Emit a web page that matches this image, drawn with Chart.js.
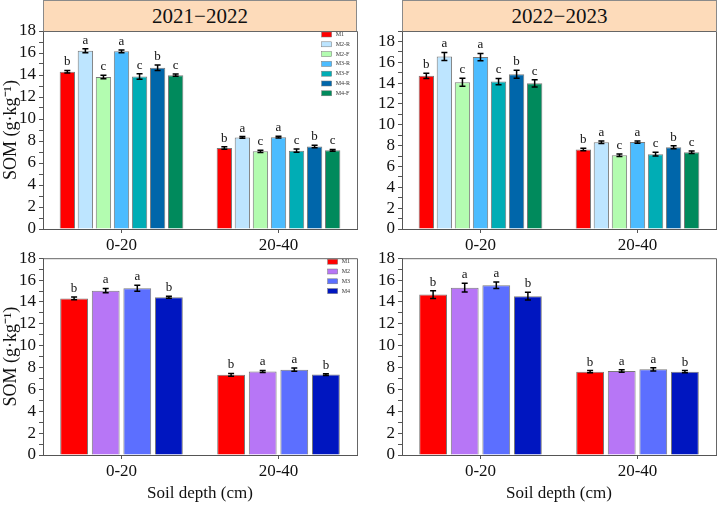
<!DOCTYPE html>
<html lang="en">
<head>
  <meta charset="UTF-8">
  <title>SOM by soil depth</title>
  <style>
    * { box-sizing: border-box; }
    body { margin: 0; padding: 0; background: #fff; font-family: "Liberation Serif", "Times New Roman", serif; }
    #wrap { position: relative; width: 719px; height: 507px; overflow: hidden; }
    .panel { position: absolute; }
    .head {
      position: absolute;
      top: 0;
      height: 31px;
      background-color: #fddbba;
      border: 1px solid #8a8a8a;
      border-bottom: none;
      text-align: center;
      font-size: 21px;
      line-height: 31px;
      color: #111;
      z-index: 2;
    }
  </style>
</head>
<body>

<div id="wrap">
  <div class="head" style="left:43px; width:314px;">2021−2022</div>
  <div class="head" style="left:402px; width:315px;">2022−2023</div>

  <canvas id="chartTL" class="panel" style="left:0; top:0;" width="360" height="256"></canvas>
  <canvas id="chartTR" class="panel" style="left:359px; top:0;" width="360" height="256"></canvas>
  <canvas id="chartBL" class="panel" style="left:0; top:245px;" width="360" height="262"></canvas>
  <canvas id="chartBR" class="panel" style="left:359px; top:245px;" width="360" height="262"></canvas>
</div>

<script src="https://cdn.jsdelivr.net/npm/chart.js"></script>
<script>
  // categories
  const depths = ['0-20', '20-40'];
  const splitTreatments = ['M1', 'M2-R', 'M2-F', 'M3-R', 'M3-F', 'M4-R', 'M4-F'];
  const meanTreatments = ['M1', 'M2', 'M3', 'M4'];

  // SOM values, one row per treatment: [0-20, 20-40]
  const som2122Split = [[14.3, 7.36], [16.2, 8.32], [13.82, 7.06], [16.15, 8.35], [13.87, 7.12], [14.65, 7.5], [13.98, 7.15]];
  const err2122Split = [[0.12, 0.12], [0.18, 0.08], [0.15, 0.1], [0.12, 0.08], [0.25, 0.15], [0.25, 0.12], [0.1, 0.08]];
  const som2223Split = [[14.7, 7.64], [16.55, 8.32], [14.08, 7.08], [16.5, 8.34], [14.15, 7.18], [14.85, 7.84], [13.98, 7.36]];
  const err2223Split = [[0.25, 0.12], [0.38, 0.12], [0.38, 0.12], [0.35, 0.1], [0.3, 0.18], [0.38, 0.15], [0.35, 0.12]];
  const lettersSplit = [['b', 'b'], ['a', 'a'], ['c', 'c'], ['a', 'a'], ['c', 'c'], ['b', 'b'], ['c', 'c']];

  const som2122Mean = [[14.32, 7.33], [15.03, 7.64], [15.25, 7.8], [14.43, 7.36]];
  const err2122Mean = [[0.12, 0.12], [0.2, 0.1], [0.28, 0.15], [0.1, 0.08]];
  const som2223Mean = [[14.67, 7.62], [15.3, 7.68], [15.53, 7.84], [14.53, 7.62]];
  const err2223Mean = [[0.35, 0.1], [0.4, 0.12], [0.3, 0.15], [0.35, 0.1]];
  const lettersMean = [['b', 'b'], ['a', 'a'], ['a', 'a'], ['b', 'b']];

  const yTicks = [0, 2, 4, 6, 8, 10, 12, 14, 16, 18];

  const splitColors = ['#ff0000', '#bde5ff', '#b3fcb0', '#4cbcff', '#00adb5', '#0066aa', '#008a5c'];
  const meanColors = ['#ff0000', '#b776f6', '#5c6fff', '#0016c0'];

  const serif = "'Liberation Serif', 'Times New Roman', serif";
  Chart.defaults.font.family = serif;
  Chart.defaults.color = '#111';

  // error bars + significance letters
  const errorBarPlugin = {
    id: 'errorBars',
    afterDatasetsDraw(chart) {
      const ctx = chart.ctx;
      const y = chart.scales.y;
      ctx.save();
      ctx.strokeStyle = '#000';
      ctx.lineWidth = 1.5;
      ctx.fillStyle = '#111';
      ctx.font = '13px ' + serif;
      ctx.textAlign = 'center';
      ctx.textBaseline = 'bottom';
      chart.data.datasets.forEach((ds, i) => {
        const meta = chart.getDatasetMeta(i);
        meta.data.forEach((bar, j) => {
          const v = ds.data[j];
          const e = ds.errors[j];
          const yt = y.getPixelForValue(v + e);
          const yb = y.getPixelForValue(v - e);
          ctx.beginPath();
          ctx.moveTo(bar.x, yt); ctx.lineTo(bar.x, yb);
          ctx.moveTo(bar.x - 3, yt); ctx.lineTo(bar.x + 3, yt);
          ctx.moveTo(bar.x - 3, yb); ctx.lineTo(bar.x + 3, yb);
          ctx.stroke();
          ctx.fillText(ds.letters[j], bar.x, yt - 2);
        });
      });
      ctx.restore();
    }
  };

  // small legend in the top right corner + box frame
  const cornerLegendPlugin = {
    id: 'cornerLegend',
    afterDraw(chart) {
      const ctx = chart.ctx;
      const a = chart.chartArea;
      ctx.save();
      ctx.strokeStyle = '#666';
      ctx.lineWidth = 1;
      ctx.beginPath();
      ctx.moveTo(a.left, a.top + 0.5); ctx.lineTo(a.right + 0.5, a.top + 0.5); ctx.lineTo(a.right + 0.5, a.bottom);
      ctx.stroke();

      if (chart.options.plugins.cornerLegend.show) {
        ctx.font = '6px ' + serif;
        ctx.textBaseline = 'middle';
        ctx.textAlign = 'left';
        let maxW = 0;
        chart.data.datasets.forEach(ds => { maxW = Math.max(maxW, ctx.measureText(ds.label).width); });
        const tx = a.right - 7 - maxW;
        chart.data.datasets.forEach((ds, i) => {
          const cy = a.top + 3.5 + i * 9.8;
          ctx.fillStyle = ds.backgroundColor;
          ctx.fillRect(tx - 14, cy - 2.5, 10, 5);
          ctx.strokeStyle = '#777';
          ctx.lineWidth = 0.5;
          ctx.strokeRect(tx - 14, cy - 2.5, 10, 5);
          ctx.fillStyle = '#333';
          ctx.fillText(ds.label, tx, cy);
        });
      }
      ctx.restore();
    }
  };

  function makePanel(id, names, colors, values, errors, letters, opts) {
    const datasets = names.map((name, i) => ({
      label: name,
      data: values[i],
      errors: errors[i],
      letters: letters[i],
      backgroundColor: colors[i],
      borderColor: '#7a7a7a',
      borderWidth: 1,
      categoryPercentage: 0.805,
      barPercentage: opts.barPct
    }));

    return new Chart(document.getElementById(id), {
      type: 'bar',
      data: { labels: depths, datasets: datasets },
      plugins: [errorBarPlugin, cornerLegendPlugin],
      options: {
        responsive: false,
        animation: false,
        devicePixelRatio: 1,
        layout: { padding: { top: opts.padTop, right: 3, left: 0, bottom: 0 } },
        plugins: {
          legend: { display: false },
          tooltip: { enabled: false },
          cornerLegend: { show: opts.legend }
        },
        scales: {
          x: {
            afterFit(scale) { scale.height = opts.xHeight; },
            grid: { display: true, drawOnChartArea: false, offset: false, tickLength: 4, color: '#555' },
            border: { color: '#555', width: 1 },
            ticks: { font: { family: serif, size: 17 }, color: '#111', padding: 2, maxRotation: 0 },
            title: {
              display: opts.xTitle,
              text: 'Soil depth (cm)',
              font: { family: serif, size: 17 },
              color: '#111',
              padding: { top: 0, bottom: 3 }
            }
          },
          y: {
            min: 0,
            max: opts.yMax,
            afterFit(scale) { scale.width = 43; },
            afterBuildTicks(scale) {
              const t = [];
              for (let v = 0; v <= opts.yMax; v++) t.push({ value: v });
              scale.ticks = t;
            },
            grid: { display: true, drawOnChartArea: false, tickLength: 4, color: '#555' },
            border: { color: '#555', width: 1 },
            ticks: {
              font: { family: serif, size: 17 },
              color: '#111',
              padding: 3,
              autoSkip: false,
              callback: v => (yTicks.includes(v) ? String(v) : '')
            },
            title: {
              display: opts.yTitle,
              text: 'SOM (g·kg⁻¹)',
              font: { family: serif, size: 18 },
              color: '#111',
              padding: { top: 0, bottom: 0 }
            }
          }
        }
      }
    });
  }

  makePanel('chartTL', splitTreatments, splitColors, som2122Split, err2122Split, lettersSplit,
    { yMax: 18, padTop: 31, xHeight: 27, barPct: 0.85, yTitle: true, xTitle: false, legend: true });
  makePanel('chartTR', splitTreatments, splitColors, som2223Split, err2223Split, lettersSplit,
    { yMax: 19, padTop: 31, xHeight: 27, barPct: 0.85, yTitle: false, xTitle: false, legend: false });
  makePanel('chartBL', meanTreatments, meanColors, som2122Mean, err2122Mean, lettersMean,
    { yMax: 18, padTop: 12, xHeight: 52, barPct: 0.88, yTitle: true, xTitle: true, legend: true });
  makePanel('chartBR', meanTreatments, meanColors, som2223Mean, err2223Mean, lettersMean,
    { yMax: 18, padTop: 12, xHeight: 52, barPct: 0.88, yTitle: false, xTitle: true, legend: false });
</script>

</body>
</html>
